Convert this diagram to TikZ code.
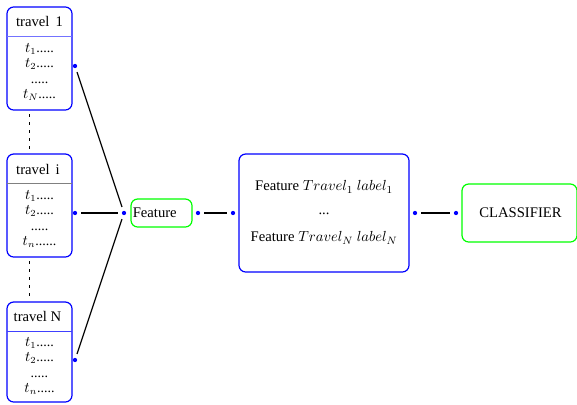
\documentclass[tikz,border=0pt]{standalone}
\usepackage{fontspec}
\setmainfont{Liberation Serif}
\begin{document}
\begin{tikzpicture}[x=0.75pt,y=-0.75pt,
  bbox/.style={draw=blue,line width=0.9pt,rounded corners=5pt,inner sep=0pt},
  gbox/.style={draw=green,line width=0.9pt,rounded corners=5pt,inner sep=0pt},
  dotn/.style={circle,fill=blue,inner sep=0pt,minimum size=3.2pt},
  conn/.style={black,line width=0.85pt,shorten <=3pt,shorten >=3pt},
  vdash/.style={black,line width=0.75pt,dash pattern=on 2.4pt off 3.6pt},
  lbl/.style={inner sep=0pt,font=\fontsize{11}{13}\selectfont},
  tlist/.style={inner sep=0pt,align=center,font=\fontsize{10.5}{11.5}\selectfont}]
\useasboundingbox (0,0) rectangle (577,404);
% travel boxes
\node[bbox,minimum width=48.75pt,minimum height=77.25pt] (b1) at (39.5,58.5) {};
\node[lbl] (h1) at (39.5,21) {travel\ \,1};
\draw[blue!55,line width=0.6pt] (7,36) -- (72,36);
\node[tlist] (c1) at (39.5,72) {$t_1$.....\\$t_2$.....\\.....\\$t_N$.....};
\node[bbox,minimum width=48.75pt,minimum height=77.25pt] (bi) at (39.5,205.5) {};
\node[lbl] (hi) at (38,169) {travel\ \,i};
\draw[gray,line width=0.6pt] (7,183) -- (72,183);
\node[tlist] (ci) at (39.5,219) {$t_1$.....\\$t_2$.....\\.....\\$t_n$......};
\node[bbox,minimum width=48.75pt,minimum height=75pt] (bN) at (39.5,352) {};
\node[lbl] (hN) at (37.5,316) {travel N};
\draw[blue!75,line width=0.6pt] (7,331) -- (72,331);
\node[tlist] (cN) at (39.5,366) {$t_1$.....\\$t_2$.....\\.....\\$t_n$.....};
\draw[vdash] (29,114) -- (29,152);
\draw[vdash] (29,261) -- (29,299);
% dots
\node[dotn] (d1) at (75,66) {};
\node[dotn] (di) at (75,213) {};
\node[dotn] (dN) at (75,360) {};
\node[dotn] (df) at (124,213) {};
% feature
\node[gbox,minimum width=45.75pt,minimum height=21pt] (feat) at (161.5,213) {};
\node[lbl,anchor=west] (ft) at (132.5,213) {Feature};
\node[dotn] (fo) at (198,213) {};
\node[dotn] (bin) at (233,213) {};
% big box
\node[bbox,minimum width=127.5pt,minimum height=88.5pt] (big) at (324,213) {};
\node[lbl] (l1) at (324,187) {Feature $Travel_1\ label_1$};
\node[lbl] (l2) at (324,214) {...};
\node[lbl] (l3) at (324,238) {Feature $Travel_N\ label_N$};
\node[dotn] (bo) at (415,213) {};
\node[dotn] (ci2) at (456,213) {};
% classifier
\node[gbox,minimum width=86.25pt,minimum height=43.5pt] (cls) at (519.5,213) {};
\node[lbl] (ct) at (520.5,213) {CLASSIFIER};
% connectors
\draw[conn] (d1) -- (df);
\draw[conn] (di) -- (df);
\draw[conn] (dN) -- (df);
\draw[conn] (fo) -- (bin);
\draw[conn] (bo) -- (ci2);
\end{tikzpicture}
\end{document}
